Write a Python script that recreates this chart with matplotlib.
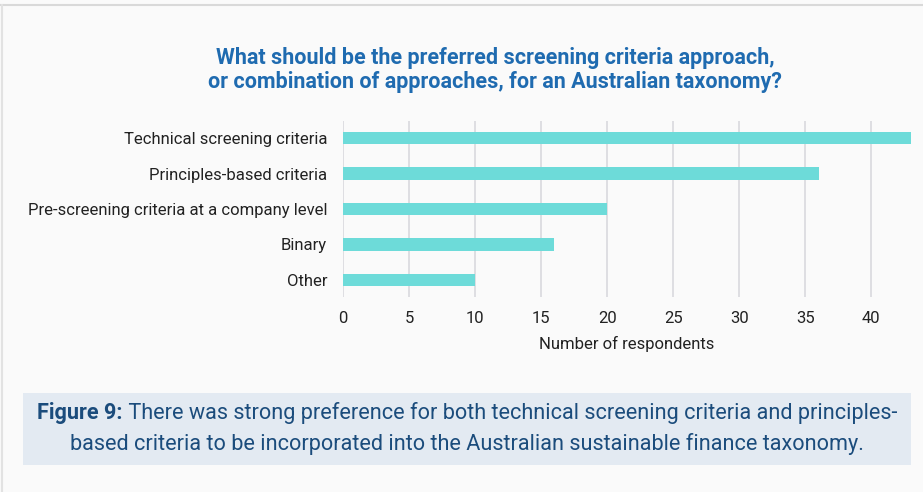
import matplotlib
matplotlib.use("Agg")
import matplotlib.pyplot as plt
from matplotlib.patches import Rectangle

categories = ["Technical screening criteria", "Principles-based criteria",
              "Pre-screening criteria at a company level", "Binary", "Other"]
values = [43, 36, 20, 16, 10]
xticks = [0, 5, 10, 15, 20, 25, 30, 35, 40]

title = "What should be the preferred screening criteria approach,\nor combination of approaches, for an Australian taxonomy?"
xlabel = "Number of respondents"
cap_bold = "Figure 9:"
cap_line1 = " There was strong preference for both technical screening criteria and principles-"
cap_line2 = "based criteria to be incorporated into the Australian sustainable finance taxonomy."

FONT = ["Roboto", "DejaVu Sans"]
plt.rcParams["font.family"] = FONT

W, H = 923, 492
fig = plt.figure(figsize=(W / 100, H / 100), dpi=100)
fig.patch.set_facecolor("#fafafa")

# border lines
fig.add_artist(plt.Line2D([0, 1], [1 - 5 / H, 1 - 5 / H], color="#d9d9d9", lw=1.5, transform=fig.transFigure))
fig.add_artist(plt.Line2D([1.5 / W, 1.5 / W], [0, 1 - 5 / H], color="#e2e2e2", lw=1.5, transform=fig.transFigure))

ax = fig.add_axes([343 / W, (H - 297) / H, (911 - 343) / W, (297 - 121) / H])
ax.set_facecolor("#fafafa")
pos = list(range(len(categories)))
ax.barh(pos, values, height=0.34, color="#6ddbd9", zorder=3)
ax.set_xlim(0, 43)
ax.set_ylim(4.48, -0.48)
ax.set_yticks(pos)
ax.set_yticklabels(categories, fontsize=12, color="#222222")
ax.set_xticks(xticks)
ax.set_xticklabels([str(t) for t in xticks], fontsize=12, color="#222222")
ax.tick_params(axis="y", length=0, pad=11.5)
ax.tick_params(axis="x", length=0, pad=10)
ax.grid(axis="x", color="#dcdce0", lw=1.3, zorder=0)
for s in ax.spines.values():
    s.set_visible(False)
ax.set_xlabel(xlabel, fontsize=12, color="#222222", labelpad=7)

fig.text(495 / W, 1 - 70 / H, title, ha="center", va="center", fontsize=15.5,
         fontweight="bold", color="#1f6bb0", linespacing=1.15)

# caption box
fig.add_artist(Rectangle((23 / W, (H - 465) / H), (911 - 23) / W, (465 - 393) / H,
                         transform=fig.transFigure, facecolor="#e3eaf2", edgecolor="none"))

fig.canvas.draw()
r = fig.canvas.get_renderer()
y1 = 1 - 413 / H
y2 = 1 - 444 / H
tb = fig.text(0, y1, cap_bold, fontsize=15.6, fontweight="bold", color="#1b4c7c", va="center")
tr = fig.text(0, y1, cap_line1, fontsize=15.6, color="#1b4c7c", va="center")
wb = tb.get_window_extent(r).width
wr = tr.get_window_extent(r).width
total = wb + wr
cx = 467
start = cx - total / 2
tb.set_x(start / W)
tr.set_x((start + wb) / W)
fig.text(cx / W, y2, cap_line2, fontsize=15.6, color="#1b4c7c", va="center", ha="center")

fig.savefig("out.png", dpi=100, facecolor=fig.get_facecolor())
